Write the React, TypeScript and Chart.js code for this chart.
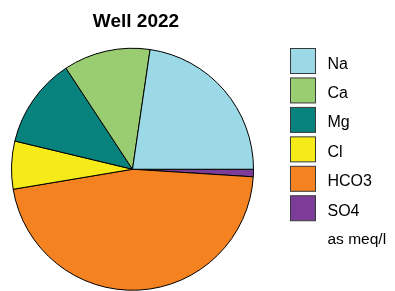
import React, { useEffect, useRef } from "react";
import { Chart, registerables } from "chart.js";

Chart.register(...registerables);

const TITLE = "Well 2022";
const IONS = ["Na", "Ca", "Mg", "Cl", "HCO3", "SO4"];
const VALUES = [22.7, 11.6, 12.0, 6.4, 46.4, 1.0];
const COLORS = ["#9AD9E5", "#9ACD72", "#07827D", "#F5EB18", "#F58220", "#7D3C98"];
const UNIT_NOTE = "as meq/l";

const FONT = "'Liberation Sans', Arial, Helvetica, sans-serif";

const overlayPlugin = {
  id: "overlay",
  afterDraw(chart: any) {
    const ctx = chart.ctx;
    ctx.save();
    // Title
    ctx.fillStyle = "#000";
    ctx.font = `bold 19px ${FONT}`;
    ctx.textAlign = "center";
    ctx.textBaseline = "alphabetic";
    ctx.fillText(TITLE, 136, 27.3);

    // Legend
    const x0 = 290.5;
    const y0 = 48.5;
    const pitch = 29.45;
    const size = 25;
    ctx.font = `16px ${FONT}`;
    ctx.textAlign = "left";
    IONS.forEach((lab, i) => {
      const y = y0 + i * pitch;
      ctx.fillStyle = COLORS[i];
      ctx.fillRect(x0, y, size, size);
      ctx.strokeStyle = "#3a3a3a";
      ctx.lineWidth = 1;
      ctx.strokeRect(x0, y, size, size);
      ctx.fillStyle = "#000";
      ctx.fillText(lab, 327.5, y + 20);
    });
    ctx.font = `15.5px ${FONT}`;
    ctx.fillText(UNIT_NOTE, 327.5, 244.3);
    ctx.restore();
  },
};

export default function App() {
  const ref = useRef<HTMLCanvasElement | null>(null);
  useEffect(() => {
    if (!ref.current) return;
    const labels = [...IONS].reverse();
    const data = [...VALUES].reverse();
    const colors = [...COLORS].reverse();
    const chart = new Chart(ref.current, {
      type: "pie",
      data: {
        labels,
        datasets: [
          {
            data,
            backgroundColor: colors,
            borderColor: "#000",
            borderWidth: 1,
            hoverOffset: 0,
          },
        ],
      },
      options: {
        responsive: false,
        animation: false,
        rotation: 90,
        layout: { padding: { left: 11, top: 47.5, right: 141, bottom: 0 } },
        plugins: {
          legend: { display: false },
          title: { display: false },
          tooltip: { enabled: false },
        },
        events: [],
      },
      plugins: [overlayPlugin],
    });
    return () => chart.destroy();
  }, []);
  return (
    <div style={{ position: "absolute", left: 0, top: 0, width: 395, height: 291, background: "#fff" }}>
      <canvas ref={ref} width={395} height={291} style={{ display: "block" }} />
    </div>
  );
}
